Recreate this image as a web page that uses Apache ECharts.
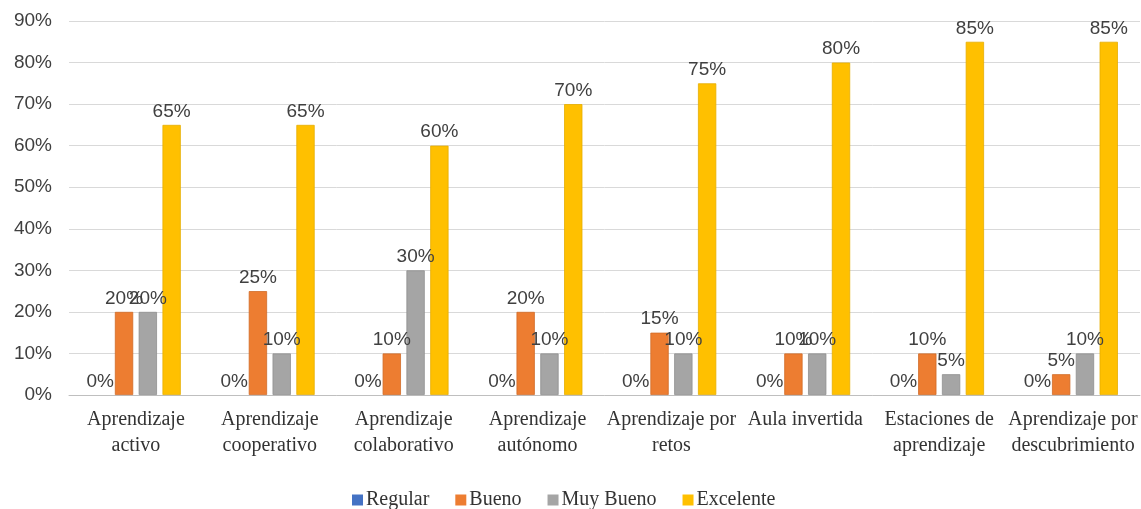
<!DOCTYPE html>
<html>
<head>
<meta charset="utf-8">
<script src="https://cdn.jsdelivr.net/npm/echarts@6/dist/echarts.min.js"></script>
<style>
  html, body { margin: 0; padding: 0; background: #fff; }
  #chart { width: 1141px; height: 509px; }
</style>
</head>
<body>
<div id="chart"></div>
<script>
// Categories (strategies) and the share of ratings for each
const categories = [
  'Aprendizaje\nactivo',
  'Aprendizaje\ncooperativo',
  'Aprendizaje\ncolaborativo',
  'Aprendizaje\nautónomo',
  'Aprendizaje por\nretos',
  'Aula invertida',
  'Estaciones de\naprendizaje',
  'Aprendizaje por\ndescubrimiento'
];
const regular   = [0, 0, 0, 0, 0, 0, 0, 0];
const bueno     = [20, 25, 10, 20, 15, 10, 10, 5];
const muyBueno  = [20, 10, 30, 10, 10, 10, 5, 10];
const excelente = [65, 65, 60, 70, 75, 80, 85, 85];
const yTicks = ['0%', '10%', '20%', '30%', '40%', '50%', '60%', '70%', '80%', '90%'];

const sans = 'Liberation Sans, Arial, sans-serif';
const serif = 'Liberation Serif, Times New Roman, serif';

function bar(name, data, color, border) {
  return {
    name: name,
    type: 'bar',
    data: data,
    barGap: '30%',
    barCategoryGap: '33%',
    itemStyle: { color: color, borderColor: border, borderWidth: 0.8 },
    label: {
      show: true,
      position: 'top',
      distance: 4,
      formatter: p => p.value + '%',
      color: '#404040',
      fontFamily: sans,
      fontSize: 19
    }
  };
}

const chart = echarts.init(document.getElementById('chart'), null, { renderer: 'canvas' });
chart.setOption({
  animation: false,
  backgroundColor: '#fff',
  grid: { left: 69, right: 1, top: 21, bottom: 114, containLabel: false },
  xAxis: {
    type: 'category',
    data: categories,
    axisTick: { show: false },
    axisLine: { lineStyle: { color: '#bfbfbf', width: 1 } },
    axisLabel: {
      interval: 0,
      margin: 12,
      color: '#333',
      fontFamily: serif,
      fontSize: 20,
      lineHeight: 26
    }
  },
  yAxis: {
    type: 'value',
    min: 0,
    max: 90,
    interval: 10,
    axisLine: { show: false },
    axisTick: { show: false },
    splitLine: { lineStyle: { color: '#d9d9d9', width: 1 } },
    axisLabel: {
      margin: 17,
      color: '#404040',
      fontFamily: sans,
      fontSize: 19,
      formatter: v => yTicks[Math.round(v / 10)]
    }
  },
  legend: {
    top: 485,
    left: 347,
    itemWidth: 11,
    itemHeight: 11,
    itemGap: 26,
    icon: 'rect',
    itemStyle: { borderWidth: 0 },
    textStyle: { color: '#333', fontFamily: serif, fontSize: 20, padding: [0, 0, 0, -2] },
    data: ['Regular', 'Bueno', 'Muy Bueno', 'Excelente']
  },
  series: [
    bar('Regular', regular, '#4472C4', null),
    bar('Bueno', bueno, '#ED7D31', '#d06b27'),
    bar('Muy Bueno', muyBueno, '#A5A5A5', '#8f8f8f'),
    bar('Excelente', excelente, '#FFC000', '#e6ad00')
  ]
});
</script>
</body>
</html>
